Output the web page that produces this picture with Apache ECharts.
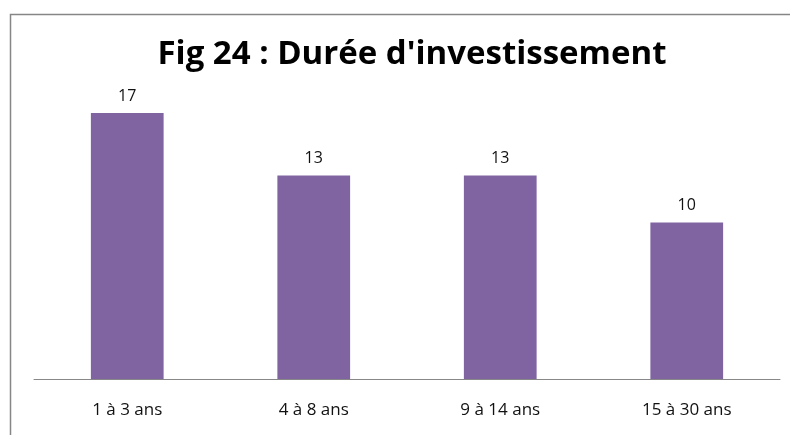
<!DOCTYPE html>
<html>
<head>
<meta charset="utf-8">
<script src="https://cdn.jsdelivr.net/npm/echarts@6/dist/echarts.min.js"></script>
<style>
    html, body { margin: 0; padding: 0; background: #fff; }
    #chart { width: 790px; height: 435px; }
</style>
</head>
<body>
<div id="chart"></div>
<script>
const categories = ['1 à 3 ans', '4 à 8 ans', '9 à 14 ans', '15 à 30 ans'];
const values = [17, 13, 13, 10];

const chart = echarts.init(document.getElementById('chart'));

chart.setOption({
    animation: false,
    title: {
        text: "Fig 24 : Durée d'investissement",
        left: 407,
        textAlign: 'center',
        top: 33,
        textStyle: {
            fontFamily: 'Open Sans',
            fontWeight: 'bold',
            fontSize: 33,
            color: '#000'
        }
    },
    // chart frame, cut off at the right and bottom
    graphic: [{
        type: 'rect',
        shape: { x: 10.5, y: 14.5, width: 820, height: 460 },
        style: { fill: null, stroke: '#868686', lineWidth: 1.5 },
        silent: true
    }],
    grid: {
        left: 34,
        right: 10,
        top: 66,
        bottom: 56
    },
    xAxis: {
        type: 'category',
        data: categories,
        axisLine: { lineStyle: { color: '#888', width: 1 } },
        axisTick: { show: false },
        axisLabel: {
            margin: 23,
            fontFamily: 'Open Sans',
            fontSize: 17,
            color: '#111'
        }
    },
    yAxis: {
        type: 'value',
        min: 0,
        max: 20,
        show: false,
        splitLine: { show: false }
    },
    series: [{
        type: 'bar',
        data: values,
        barWidth: '39%',
        itemStyle: { color: '#8064A2' },
        label: {
            show: true,
            position: 'top',
            distance: 9,
            fontFamily: 'Open Sans',
            fontSize: 16,
            color: '#111'
        }
    }]
});
</script>
</body>
</html>
